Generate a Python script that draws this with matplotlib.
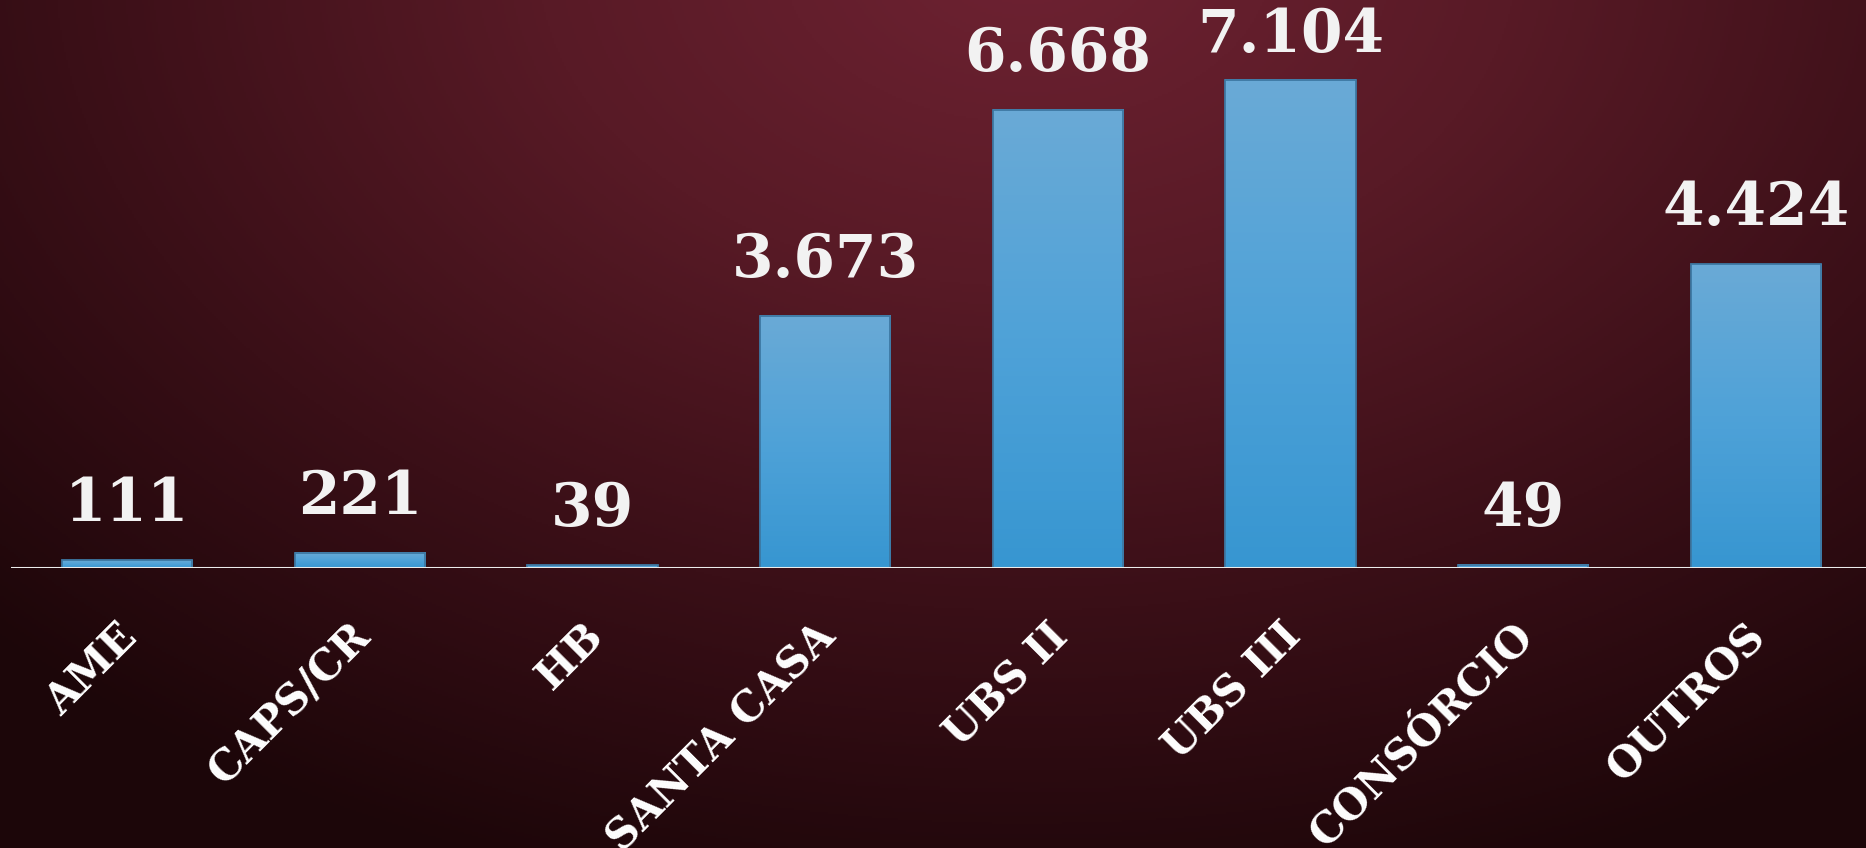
import numpy as np
import matplotlib
matplotlib.use('Agg')
import matplotlib.pyplot as plt
from matplotlib.colors import LinearSegmentedColormap
from matplotlib.patches import Rectangle

# dados
categorias = ['AME', 'CAPS/CR', 'HB', 'SANTA CASA', 'UBS II', 'UBS III', 'CONSÓRCIO', 'OUTROS']
valores = [111, 221, 39, 3673, 6668, 7104, 49, 4424]
rotulos = ['111', '221', '39', '3.673', '6.668', '7.104', '49', '4.424']

fig = plt.figure(figsize=(18.66, 8.48), dpi=100)

# fundo vinho com gradiente radial
bg = fig.add_axes([0, 0, 1, 1], zorder=0)
W, H = 933, 424
yy, xx = np.mgrid[0:H, 0:W]
d = np.sqrt(((xx - 0.55 * W) / (0.78 * W)) ** 2 + ((yy + 0.05 * H) / (1.15 * H)) ** 2)
d = np.clip(d, 0, 1)
cmap_bg = LinearSegmentedColormap.from_list(
    'bg', ['#6e2232', '#581a26', '#3a0f17', '#1c0609'])
bg.imshow(d, cmap=cmap_bg, aspect='auto', extent=[0, 1, 0, 1], vmin=0, vmax=1)
bg.axis('off')

# eixo principal
ax = fig.add_axes([11 / 1866, 280 / 848, 1861 / 1866, 568 / 848], zorder=1)
ax.patch.set_alpha(0)
for s in ax.spines.values():
    s.set_visible(False)
ax.set_xticks([])
ax.set_yticks([])

x = np.arange(len(categorias))
largura = 0.56
ymax = 8268
barras = ax.bar(x, valores, width=largura, color='#4ba0d6', zorder=2)

cmap_bar = LinearSegmentedColormap.from_list('azul', ['#3796d1', '#4fa2d8', '#6aaad6'])
grad = np.linspace(0, 1, 256).reshape(-1, 1)
for b in barras:
    x0 = b.get_x()
    h = b.get_height()
    ax.imshow(grad, extent=[x0, x0 + largura, 0, h], origin='lower',
              aspect='auto', cmap=cmap_bar, zorder=3)
    ax.add_patch(Rectangle((x0, 0), largura, h, fill=False,
                           edgecolor='#3d78a3', linewidth=1.3, zorder=4))

ax.set_xlim(-0.5, 7.5)
ax.set_ylim(0, ymax)

# linha base
ax.axhline(0, color='#ececec', linewidth=2.2, zorder=5)

# rotulos de valores
desloc = 393
limite = ymax - 932
for i in range(len(valores)):
    y = min(valores[i] + desloc, limite)
    ax.text(x[i], y, rotulos[i], ha='center', va='bottom', fontsize=43,
            fontweight='bold', family='DejaVu Serif', color='#f2f2f2', zorder=6)

# categorias inclinadas
for i in range(len(categorias)):
    ax.annotate(categorias[i], xy=(x[i], 0), xytext=(-8, -34),
                textcoords='offset points', rotation=45, rotation_mode='anchor',
                ha='right', va='top', fontsize=30, fontweight='bold',
                family='DejaVu Serif', color='white', annotation_clip=False)

fig.savefig('out.png', dpi=100)
